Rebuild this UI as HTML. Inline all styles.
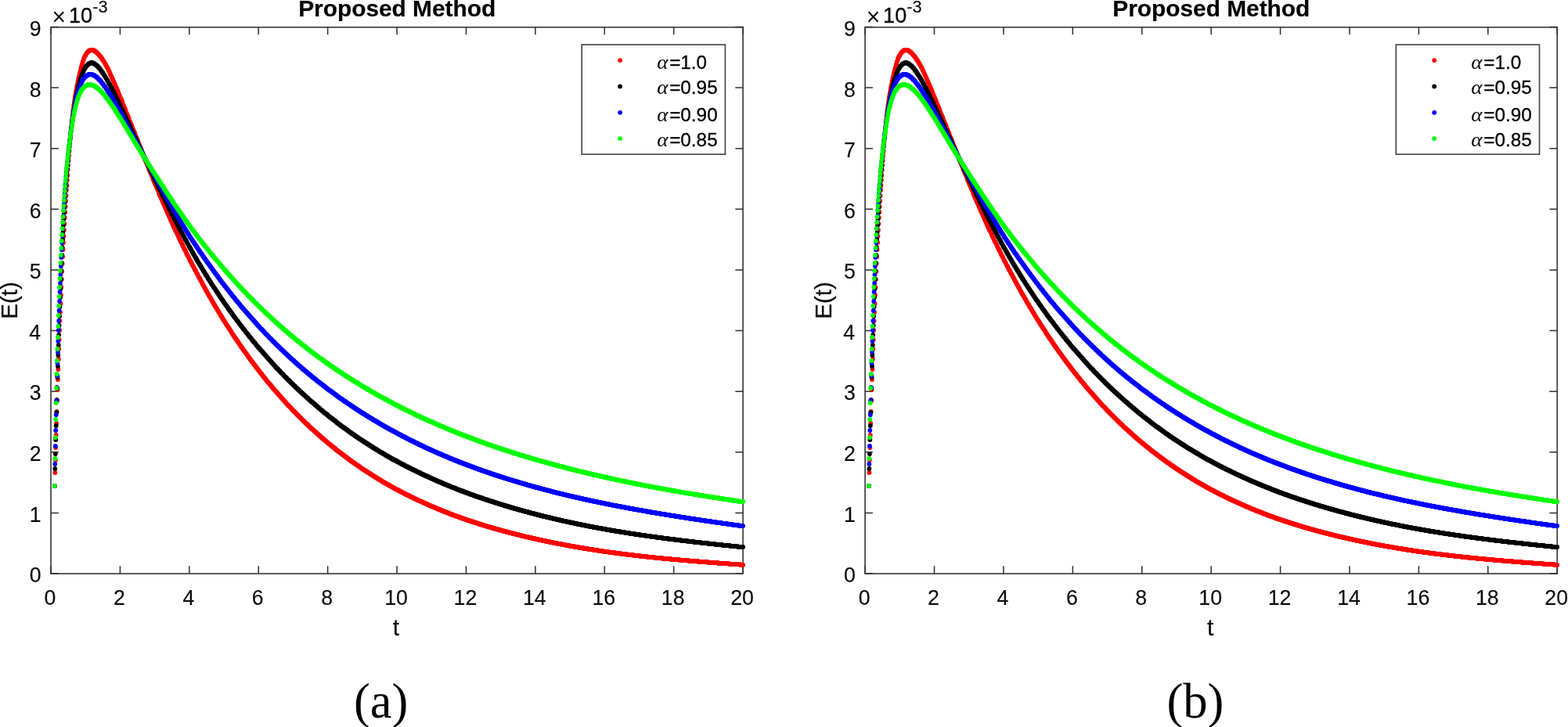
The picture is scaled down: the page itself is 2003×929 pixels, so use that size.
<!DOCTYPE html>
<html><head><meta charset="utf-8"><title>Proposed Method</title>
<style>
html,body{margin:0;padding:0;background:#fff;overflow:hidden;}
svg{display:block;}
text{font-family:"Liberation Sans",Arial,Helvetica,sans-serif;}
.cap{font-family:"Liberation Serif","Times New Roman",serif;}
.al{font-family:"Liberation Serif","DejaVu Serif",serif;font-style:italic;}
</style></head><body>
<svg width="2003" height="929" viewBox="0 0 2003 929">
<rect width="2003" height="929" fill="#fff"/>
<defs>
<g id="curves" fill="none" stroke-width="5.80" stroke-linecap="round" stroke-linejoin="round">
<path d="M69.9 621h0M70.3 604h0M70.8 588h0M71.2 572h0M71.7 556h0M72.1 541h0M72.6 526h0M73 512h0M73.4 498h0M73.9 485h0M74.3 472h0M74.8 459h0M75.2 446h0M75.6 434h0M76.1 422h0M76.5 410h0M77 399h0M77.4 388h0M77.9 377h0M78.3 367h0M78.7 357h0M79.2 347h0M79.6 337h0M80.1 328h0M80.5 319h0M81 310h0M81.4 302h0M81.8 294h0M82.3 286h0M82.7 278h0M83.2 271h0M83.6 264h0M84.1 257h0M84.5 250h0M84.9 243h0M85.4 237h0M85.8 230h0M86.3 224h0M86.7 217h0M87.1 211h0M87.6 205h0M88 199h0M88.5 193h0M88.9 187h0M89.4 182h0M89.8 176h0M90.2 171h0M90.7 166h0M91.1 162h0M91.6 157h0M92 153h0M92.5 149h0M92.9 146h0M93.3 142h0M93.8 139h0M94.2 135h0M94.7 132h0M95.1 129h0M95.6 126h0M96 123h0M96.4 121h0M96.9 118h0M97.3 116h0M97.8 113h0M98.2 111h0M98.6 109h0M99.1 107h0M99.5 104h0M100 102h0M100.4 100h0M100.9 98h0M101.3 96h0M101.7 94h0M102.2 92h0M102.6 91h0M103.1 89h0M103.5 87h0M104 85h0M104.4 84h0M104.8 82h0M105.3 81h0M105.7 79h0M106.2 78h0M106.6 77h0M107 75h0M107.5 74h0M107.9 73h0M108.4 72h0M108.8 71H109.3M109.7 70h0M110.1 69h0M110.6 68H111M111.5 67H111.9M112.4 66H112.8M113.2 65H114.6M115 64H119.4M119.9 65H121.2M121.6 66H122.5M123 67H123.9M124.3 68H124.7M125.2 69H125.6M126.1 70H126.5M127 71H127.4M127.8 72H128.3M128.7 73H129.2M129.6 74h0M130 75H130.5M130.9 76h0M131.4 77H131.8M132.3 78h0M132.7 79H133.1M133.6 80h0M134 81h0M134.5 82H134.9M135.4 83h0M135.8 84h0M136.2 85h0M136.7 86H137.1M137.6 87h0M138 88h0M138.4 89h0M138.9 90h0M139.3 91h0M139.8 92h0M140.2 93h0M140.7 94h0M141.1 95h0M141.5 96h0M142 97h0M142.4 98h0M142.9 99h0M143.3 100h0M143.8 101h0M144.2 102h0M144.6 103h0M145.1 104h0M145.5 105h0M146 106h0M146.4 107h0M146.9 108h0M147.3 109h0M147.7 110h0M148.2 111h0M148.6 112h0M149.1 113h0M149.5 114h0M149.9 115h0M150.4 116h0M150.8 117h0M151.3 119h0M151.7 120h0M152.2 121h0M152.6 122h0M153 123h0M153.5 124h0M153.9 125h0M154.4 126h0M154.8 127h0M155.3 128h0M155.7 129h0M156.1 130h0M156.6 132h0M157 133h0M157.5 134h0M157.9 135h0M158.4 136h0M158.8 137h0M159.2 138h0M159.7 139h0M160.1 140h0M160.6 142h0M161 143h0M161.4 144h0M161.9 145h0M162.3 146h0M162.8 147h0M163.2 148h0M163.7 149h0M164.1 150h0M164.5 151h0M165 153h0M165.4 154h0M165.9 155h0M166.3 156h0M166.8 157h0M167.2 158h0M167.6 159h0M168.1 160h0M168.5 161h0M169 163h0M169.4 164h0M169.8 165h0M170.3 166h0M170.7 167h0M171.2 168h0M171.6 169h0M172.1 170h0M172.5 171h0M172.9 173h0M173.4 174h0M173.8 175h0M174.3 176h0M174.7 177h0M175.2 178h0M175.6 179h0M176 180h0M176.5 181h0M176.9 183h0M177.4 184h0M177.8 185h0M178.3 186h0M178.7 187h0M179.1 188h0M179.6 189h0M180 190h0M180.5 191h0M180.9 193h0M181.3 194h0M181.8 195h0M182.2 196h0M182.7 197h0M183.1 198h0M183.6 199h0M184 200h0M184.4 201h0M184.9 202h0M185.3 204h0M185.8 205h0M186.2 206h0M186.7 207h0M187.1 208h0M187.5 209h0M188 210h0M188.4 211h0M188.9 212h0M189.3 213h0M189.7 214h0M190.2 216h0M190.6 217h0M191.1 218h0M191.5 219h0M192 220h0M192.4 221h0M192.8 222h0M193.3 223h0M193.7 224h0M194.2 225h0M194.6 226h0M195.1 227h0M195.5 229h0M195.9 230h0M196.4 231h0M196.8 232h0M197.3 233h0M197.7 234h0M198.2 235h0M198.6 236h0M199 237h0M199.5 238h0M199.9 239h0M200.4 240h0M200.8 241h0M201.2 242h0M201.7 243h0M202.1 244h0M202.6 245h0M203 247h0M203.5 248h0M203.9 249h0M204.3 250h0M204.8 251h0M205.2 252h0M205.7 253h0M206.1 254h0M206.6 255h0M207 256h0M207.4 257h0M207.9 258h0M208.3 259h0M208.8 260h0M209.2 261h0M209.7 262h0M210.1 263h0M210.5 264h0M211 265h0M211.4 266h0M211.9 267h0M212.3 268h0M212.7 269h0M213.2 270h0M213.6 271h0M214.1 272h0M214.5 273h0M215 274h0M215.4 275h0M215.8 276h0M216.3 277h0M216.7 278h0M217.2 279h0M217.6 280h0M218.1 281h0M218.5 282h0M218.9 283h0M219.4 284h0M219.8 285h0M220.3 286h0M220.7 287h0M221.1 288h0M221.6 289h0M222 290h0M222.5 291h0M222.9 292h0M223.4 293h0M223.8 294h0M224.2 295H224.7M225.1 296h0M225.6 297h0M226 298h0M226.5 299h0M226.9 300h0M227.3 301h0M227.8 302h0M228.2 303h0M228.7 304h0M229.1 305h0M229.6 306h0M230 307h0M230.4 308h0M230.9 309H231.3M231.8 310h0M232.2 311h0M232.6 312h0M233.1 313h0M233.5 314h0M234 315h0M234.4 316h0M234.9 317h0M235.3 318h0M235.7 319H236.2M236.6 320h0M237.1 321h0M237.5 322h0M238 323h0M238.4 324h0M238.8 325h0M239.3 326h0M239.7 327H240.2M240.6 328h0M241.1 329h0M241.5 330h0M241.9 331h0M242.4 332h0M242.8 333h0M243.3 334H243.7M244.1 335h0M244.6 336h0M245 337h0M245.5 338h0M245.9 339h0M246.4 340H246.8M247.2 341h0M247.7 342h0M248.1 343h0M248.6 344h0M249 345H249.5M249.9 346h0M250.3 347h0M250.8 348h0M251.2 349h0M251.7 350H252.1M252.5 351h0M253 352h0M253.4 353h0M253.9 354h0M254.3 355H254.8M255.2 356h0M255.6 357h0M256.1 358h0M256.5 359h0M257 360H257.4M257.9 361h0M258.3 362h0M258.7 363h0M259.2 364H259.6M260.1 365h0M260.5 366h0M261 367h0M261.4 368H261.8M262.3 369h0M262.7 370h0M263.2 371h0M263.6 372H264M264.5 373h0M264.9 374h0M265.4 375h0M265.8 376H266.3M266.7 377h0M267.1 378h0M267.6 379H268M268.5 380h0M268.9 381h0M269.4 382H269.8M270.2 383h0M270.7 384h0M271.1 385h0M271.6 386H272M272.5 387h0M272.9 388h0M273.3 389H273.8M274.2 390h0M274.7 391h0M275.1 392H275.5M276 393h0M276.4 394H276.9M277.3 395h0M277.8 396h0M278.2 397H278.6M279.1 398h0M279.5 399h0M280 400H280.4M280.9 401h0M281.3 402h0M281.7 403H282.2M282.6 404h0M283.1 405H283.5M283.9 406h0M284.4 407h0M284.8 408H285.3M285.7 409h0M286.2 410H286.6M287 411h0M287.5 412H287.9M288.4 413h0M288.8 414h0M289.3 415H289.7M290.1 416h0M290.6 417H291M291.5 418h0M291.9 419H292.4M292.8 420h0M293.2 421H293.7M294.1 422h0M294.6 423H295M295.4 424h0M295.9 425h0M296.3 426H296.8M297.2 427h0M297.7 428H298.1M298.5 429h0M299 430H299.4M299.9 431h0M300.3 432H300.8M301.2 433H301.6M302.1 434h0M302.5 435H303M303.4 436h0M303.9 437H304.3M304.7 438h0M305.2 439H305.6M306.1 440h0M306.5 441H306.9M307.4 442h0M307.8 443H308.3M308.7 444H309.2M309.6 445h0M310 446H310.5M310.9 447h0M311.4 448H311.8M312.3 449H312.7M313.1 450h0M313.6 451H314M314.5 452H314.9M315.3 453h0M315.8 454H316.2M316.7 455h0M317.1 456H317.6M318 457H318.4M318.9 458h0M319.3 459H319.8M320.2 460H320.7M321.1 461h0M321.5 462H322M322.4 463H322.9M323.3 464h0M323.8 465H324.2M324.6 466H325.1M325.5 467H326M326.4 468h0M326.8 469H327.3M327.7 470H328.2M328.6 471h0M329.1 472H329.5M329.9 473H330.4M330.8 474H331.3M331.7 475h0M332.2 476H332.6M333 477H333.5M333.9 478H334.4M334.8 479H335.2M335.7 480h0M336.1 481H336.6M337 482H337.5M337.9 483H338.3M338.8 484H339.2M339.7 485h0M340.1 486H340.6M341 487H341.4M341.9 488H342.3M342.8 489H343.2M343.7 490H344.1M344.5 491H345M345.4 492H345.9M346.3 493h0M346.7 494H347.2M347.6 495H348.1M348.5 496H349M349.4 497H349.8M350.3 498H350.7M351.2 499H351.6M352.1 500H352.5M352.9 501H353.4M353.8 502H354.3M354.7 503H355.2M355.6 504H356M356.5 505H356.9M357.4 506H357.8M358.2 507H358.7M359.1 508H359.6M360 509H360.5M360.9 510H361.3M361.8 511H362.2M362.7 512H363.1M363.6 513H364M364.4 514H364.9M365.3 515H365.8M366.2 516H366.6M367.1 517H367.5M368 518H368.4M368.9 519H369.7M370.2 520H370.6M371.1 521H371.5M372 522H372.4M372.8 523H373.3M373.7 524H374.2M374.6 525H375.1M375.5 526H376.4M376.8 527H377.3M377.7 528H378.1M378.6 529H379M379.5 530H379.9M380.4 531H381.2M381.7 532H382.1M382.6 533H383M383.5 534H384.3M384.8 535H385.2M385.7 536H386.1M386.6 537H387M387.4 538H388.3M388.8 539H389.2M389.6 540H390.1M390.5 541H391.4M391.9 542H392.3M392.7 543H393.6M394.1 544H394.5M395 545H395.4M395.8 546H396.7M397.2 547H397.6M398 548H398.9M399.4 549H399.8M400.3 550H401.1M401.6 551H402M402.5 552H403.4M403.8 553H404.2M404.7 554H405.6M406 555H406.5M406.9 556H407.8M408.2 557H408.7M409.1 558H410M410.4 559H410.9M411.3 560H412.2M412.6 561H413.5M414 562H414.4M414.9 563H415.7M416.2 564H417.1M417.5 565H418M418.4 566H419.3M419.7 567H420.6M421 568H421.9M422.4 569H422.8M423.3 570H424.1M424.6 571H425.5M425.9 572H426.8M427.2 573H428.1M428.6 574H429M429.4 575H430.3M430.8 576H431.7M432.1 577H433M433.4 578H434.3M434.8 579H435.6M436.1 580H437M437.4 581H438.3M438.7 582H439.6M440.1 583H440.9M441.4 584H442.3M442.7 585H443.6M444 586H444.9M445.4 587H446.3M446.7 588H447.6M448 589H448.9M449.4 590H450.2M450.7 591H452M452.4 592H453.3M453.8 593H454.7M455.1 594H456M456.4 595H457.8M458.2 596H459.1M459.5 597H460.4M460.8 598H461.7M462.2 599H463.5M463.9 600H464.8M465.3 601H466.6M467 602H467.9M468.4 603H469.7M470.1 604H471M471.5 605H472.8M473.2 606H474.1M474.6 607H475.9M476.3 608H477.2M477.7 609H479M479.4 610H480.8M481.2 611H482.1M482.5 612H483.8M484.3 613H485.6M486.1 614H486.9M487.4 615H488.7M489.2 616H490.5M490.9 617H492.2M492.7 618H494M494.5 619H495.8M496.2 620H497.6M498 621H499.3M499.8 622H501.1M501.5 623H502.9M503.3 624H504.6M505.1 625H506.4M506.8 626H508.6M509.1 627H510.4M510.8 628H512.2M512.6 629H514.4M514.8 630H516.1M516.6 631H517.9M518.3 632H520.1M520.6 633H522.3M522.8 634H524.1M524.5 635H526.3M526.7 636H528.1M528.5 637H530.3M530.7 638H532.5M532.9 639H534.7M535.1 640H536.9M537.4 641H539.1M539.6 642H541.3M541.8 643H543.5M544 644H545.8M546.2 645H548M548.4 646H550.2M550.6 647H552.4M552.8 648H555M555.5 649H557.3M557.7 650H559.5M559.9 651H562.1M562.6 652H564.3M564.8 653H567M567.4 654H569.6M570.1 655H572.3M572.7 656H574.5M574.9 657H577.2M577.6 658H579.8M580.3 659H582.5M582.9 660H585.6M586 661H588.2M588.7 662H590.9M591.3 663H594M594.4 664H596.6M597.1 665H599.7M600.2 666H602.8M603.3 667H605.9M606.3 668H609M609.4 669H612.1M612.5 670H615.2M615.6 671H618.3M618.7 672H621.8M622.3 673H624.9M625.4 674H628.5M628.9 675H632M632.4 676H635.5M636 677H639.1M639.5 678H642.6M643.1 679H646.6M647 680H650.1M650.6 681H654.1M654.6 682H658.1M658.5 683H662.1M662.5 684H666.1M666.5 685H670M670.5 686H674.5M674.9 687H678.9M679.3 688H683.3M683.7 689H687.7M688.2 690H692.1M692.6 691H697M697.5 692H701.9M702.3 693H706.7M707.2 694H711.6M712 695H716.9M717.4 696H722.2M722.7 697H727.5M728 698H733.3M733.7 699H739M739.5 700H744.8M745.2 701H751M751.4 702H757.2M757.6 703H763.8M764.2 704H770.4M770.9 705H777.5M777.9 706H785M785.5 707H792.5M793 708H800.5M800.9 709H808.9M809.3 710H817.3M817.7 711H826.6M827 712H835.9M836.3 713H846M846.5 714H856.7M857.1 715H867.7M868.2 716H879.2M879.7 717H891.6M892 718H904M904.4 719H917.3M917.7 720H931M931.4 721H945.1M945.6 722H949.1" stroke="#ff0000"/>
<path d="M69.9 621h0M70.3 599h0M70.8 580h0M71.2 562h0M71.7 544h0M72.1 527h0M72.6 511h0M73 496h0M73.4 482h0M73.9 468h0M74.3 454h0M74.8 441h0M75.2 428h0M75.6 416h0M76.1 404h0M76.5 392h0M77 380h0M77.4 369h0M77.9 357h0M78.3 346h0M78.7 336h0M79.2 326h0M79.6 316h0M80.1 306h0M80.5 297h0M81 288h0M81.4 280h0M81.8 272h0M82.3 265h0M82.7 258h0M83.2 251h0M83.6 244h0M84.1 238h0M84.5 232h0M84.9 226h0M85.4 221h0M85.8 216h0M86.3 211h0M86.7 206h0M87.1 201h0M87.6 196h0M88 192h0M88.5 188h0M88.9 183h0M89.4 179h0M89.8 176h0M90.2 172h0M90.7 168h0M91.1 164h0M91.6 161h0M92 158h0M92.5 154h0M92.9 151h0M93.3 148h0M93.8 145h0M94.2 142h0M94.7 139h0M95.1 136h0M95.6 133h0M96 131h0M96.4 128h0M96.9 126h0M97.3 123h0M97.8 121h0M98.2 119h0M98.6 117h0M99.1 115h0M99.5 113h0M100 111h0M100.4 109h0M100.9 108h0M101.3 106h0M101.7 105h0M102.2 103h0M102.6 102h0M103.1 100h0M103.5 99h0M104 98h0M104.4 96h0M104.8 95h0M105.3 94h0M105.7 93h0M106.2 92h0M106.6 91h0M107 90h0M107.5 89h0M107.9 88h0M108.4 87H108.8M109.3 86h0M109.7 85H110.1M110.6 84H111M111.5 83H111.9M112.4 82H113.2M113.7 81H115.5M115.9 80H118.1M118.5 81H120.3M120.8 82H121.6M122.1 83H123M123.4 84H124.3M124.7 85H125.2M125.6 86H126.1M126.5 87H127M127.4 88H127.8M128.3 89h0M128.7 90H129.2M129.6 91H130M130.5 92h0M130.9 93H131.4M131.8 94h0M132.3 95H132.7M133.1 96h0M133.6 97H134M134.5 98h0M134.9 99h0M135.4 100H135.8M136.2 101h0M136.7 102h0M137.1 103H137.6M138 104h0M138.4 105h0M138.9 106h0M139.3 107H139.8M140.2 108h0M140.7 109h0M141.1 110h0M141.5 111h0M142 112H142.4M142.9 113h0M143.3 114h0M143.8 115h0M144.2 116h0M144.6 117h0M145.1 118H145.5M146 119h0M146.4 120h0M146.9 121h0M147.3 122h0M147.7 123h0M148.2 124h0M148.6 125h0M149.1 126h0M149.5 127H149.9M150.4 128h0M150.8 129h0M151.3 130h0M151.7 131h0M152.2 132h0M152.6 133h0M153 134h0M153.5 135h0M153.9 136h0M154.4 137h0M154.8 138h0M155.3 139h0M155.7 140H156.1M156.6 141h0M157 142h0M157.5 143h0M157.9 144h0M158.4 145h0M158.8 146h0M159.2 147h0M159.7 148h0M160.1 149h0M160.6 150h0M161 151h0M161.4 152h0M161.9 153h0M162.3 154h0M162.8 155h0M163.2 156H163.7M164.1 157h0M164.5 158h0M165 159h0M165.4 160h0M165.9 161h0M166.3 162h0M166.8 163h0M167.2 164h0M167.6 165h0M168.1 166h0M168.5 167h0M169 168h0M169.4 169h0M169.8 170h0M170.3 171h0M170.7 172h0M171.2 173h0M171.6 174h0M172.1 175H172.5M172.9 176h0M173.4 177h0M173.8 178h0M174.3 179h0M174.7 180h0M175.2 181h0M175.6 182h0M176 183h0M176.5 184h0M176.9 185h0M177.4 186h0M177.8 187h0M178.3 188h0M178.7 189h0M179.1 190h0M179.6 191h0M180 192h0M180.5 193H180.9M181.3 194h0M181.8 195h0M182.2 196h0M182.7 197h0M183.1 198h0M183.6 199h0M184 200h0M184.4 201h0M184.9 202h0M185.3 203h0M185.8 204h0M186.2 205h0M186.7 206h0M187.1 207H187.5M188 208h0M188.4 209h0M188.9 210h0M189.3 211h0M189.7 212h0M190.2 213h0M190.6 214h0M191.1 215h0M191.5 216h0M192 217h0M192.4 218h0M192.8 219h0M193.3 220H193.7M194.2 221h0M194.6 222h0M195.1 223h0M195.5 224h0M195.9 225h0M196.4 226h0M196.8 227h0M197.3 228h0M197.7 229h0M198.2 230h0M198.6 231H199M199.5 232h0M199.9 233h0M200.4 234h0M200.8 235h0M201.2 236h0M201.7 237h0M202.1 238h0M202.6 239h0M203 240h0M203.5 241h0M203.9 242H204.3M204.8 243h0M205.2 244h0M205.7 245h0M206.1 246h0M206.6 247h0M207 248h0M207.4 249h0M207.9 250h0M208.3 251H208.8M209.2 252h0M209.7 253h0M210.1 254h0M210.5 255h0M211 256h0M211.4 257h0M211.9 258h0M212.3 259h0M212.7 260H213.2M213.6 261h0M214.1 262h0M214.5 263h0M215 264h0M215.4 265h0M215.8 266h0M216.3 267h0M216.7 268H217.2M217.6 269h0M218.1 270h0M218.5 271h0M218.9 272h0M219.4 273h0M219.8 274h0M220.3 275H220.7M221.1 276h0M221.6 277h0M222 278h0M222.5 279h0M222.9 280h0M223.4 281H223.8M224.2 282h0M224.7 283h0M225.1 284h0M225.6 285h0M226 286h0M226.5 287H226.9M227.3 288h0M227.8 289h0M228.2 290h0M228.7 291h0M229.1 292H229.6M230 293h0M230.4 294h0M230.9 295h0M231.3 296h0M231.8 297H232.2M232.6 298h0M233.1 299h0M233.5 300h0M234 301h0M234.4 302H234.9M235.3 303h0M235.7 304h0M236.2 305h0M236.6 306H237.1M237.5 307h0M238 308h0M238.4 309h0M238.8 310h0M239.3 311H239.7M240.2 312h0M240.6 313h0M241.1 314h0M241.5 315H241.9M242.4 316h0M242.8 317h0M243.3 318H243.7M244.1 319h0M244.6 320h0M245 321h0M245.5 322H245.9M246.4 323h0M246.8 324h0M247.2 325H247.7M248.1 326h0M248.6 327h0M249 328h0M249.5 329H249.9M250.3 330h0M250.8 331h0M251.2 332H251.7M252.1 333h0M252.5 334h0M253 335H253.4M253.9 336h0M254.3 337h0M254.8 338H255.2M255.6 339h0M256.1 340H256.5M257 341h0M257.4 342h0M257.9 343H258.3M258.7 344h0M259.2 345h0M259.6 346H260.1M260.5 347h0M261 348H261.4M261.8 349h0M262.3 350h0M262.7 351H263.2M263.6 352h0M264 353H264.5M264.9 354h0M265.4 355h0M265.8 356H266.3M266.7 357h0M267.1 358H267.6M268 359h0M268.5 360H268.9M269.4 361h0M269.8 362h0M270.2 363H270.7M271.1 364h0M271.6 365H272M272.5 366h0M272.9 367H273.3M273.8 368h0M274.2 369H274.7M275.1 370h0M275.5 371H276M276.4 372h0M276.9 373H277.3M277.8 374h0M278.2 375H278.6M279.1 376h0M279.5 377H280M280.4 378h0M280.9 379H281.3M281.7 380h0M282.2 381H282.6M283.1 382h0M283.5 383H283.9M284.4 384H284.8M285.3 385h0M285.7 386H286.2M286.6 387h0M287 388H287.5M287.9 389h0M288.4 390H288.8M289.3 391H289.7M290.1 392h0M290.6 393H291M291.5 394h0M291.9 395H292.4M292.8 396H293.2M293.7 397h0M294.1 398H294.6M295 399H295.4M295.9 400h0M296.3 401H296.8M297.2 402h0M297.7 403H298.1M298.5 404H299M299.4 405h0M299.9 406H300.3M300.8 407H301.2M301.6 408h0M302.1 409H302.5M303 410H303.4M303.9 411H304.3M304.7 412h0M305.2 413H305.6M306.1 414H306.5M306.9 415h0M307.4 416H307.8M308.3 417H308.7M309.2 418H309.6M310 419h0M310.5 420H310.9M311.4 421H311.8M312.3 422H312.7M313.1 423h0M313.6 424H314M314.5 425H314.9M315.3 426H315.8M316.2 427H316.7M317.1 428h0M317.6 429H318M318.4 430H318.9M319.3 431H319.8M320.2 432H320.7M321.1 433h0M321.5 434H322M322.4 435H322.9M323.3 436H323.8M324.2 437H324.6M325.1 438H325.5M326 439H326.4M326.8 440h0M327.3 441H327.7M328.2 442H328.6M329.1 443H329.5M329.9 444H330.4M330.8 445H331.3M331.7 446H332.2M332.6 447H333M333.5 448H333.9M334.4 449H334.8M335.2 450H335.7M336.1 451H336.6M337 452H337.5M337.9 453H338.3M338.8 454H339.2M339.7 455H340.1M340.6 456H341M341.4 457H341.9M342.3 458H342.8M343.2 459H343.7M344.1 460H344.5M345 461H345.4M345.9 462H346.3M346.7 463H347.2M347.6 464H348.1M348.5 465H349M349.4 466H349.8M350.3 467H350.7M351.2 468H351.6M352.1 469H352.5M352.9 470H353.4M353.8 471H354.7M355.2 472H355.6M356 473H356.5M356.9 474H357.4M357.8 475H358.2M358.7 476H359.1M359.6 477H360.5M360.9 478H361.3M361.8 479H362.2M362.7 480H363.1M363.6 481H364M364.4 482H365.3M365.8 483H366.2M366.6 484H367.1M367.5 485H368M368.4 486H369.3M369.7 487H370.2M370.6 488H371.1M371.5 489H372M372.4 490H373.3M373.7 491H374.2M374.6 492H375.1M375.5 493H376.4M376.8 494H377.3M377.7 495H378.1M378.6 496H379.5M379.9 497H380.4M380.8 498H381.7M382.1 499H382.6M383 500H383.5M383.9 501H384.8M385.2 502H385.7M386.1 503H387M387.4 504H387.9M388.3 505H389.2M389.6 506H390.1M390.5 507H391.4M391.9 508H392.3M392.7 509H393.6M394.1 510H394.5M395 511H395.8M396.3 512H396.7M397.2 513H398M398.5 514H399.4M399.8 515H400.3M400.7 516H401.6M402 517H402.5M402.9 518H403.8M404.2 519H405.1M405.6 520H406M406.5 521H407.3M407.8 522H408.7M409.1 523H409.5M410 524H410.9M411.3 525H412.2M412.6 526H413.1M413.5 527H414.4M414.9 528H415.7M416.2 529H417.1M417.5 530H418.4M418.8 531H419.3M419.7 532H420.6M421 533H421.9M422.4 534H423.3M423.7 535H424.6M425 536H425.9M426.4 537H427.2M427.7 538H428.6M429 539H429.4M429.9 540H430.8M431.2 541H432.1M432.5 542H433.4M433.9 543H434.8M435.2 544H436.1M436.5 545H437.4M437.9 546H439.2M439.6 547H440.5M440.9 548H441.8M442.3 549H443.2M443.6 550H444.5M444.9 551H445.8M446.3 552H447.1M447.6 553H448.5M448.9 554H450.2M450.7 555H451.6M452 556H452.9M453.3 557H454.2M454.7 558H456M456.4 559H457.3M457.8 560H458.6M459.1 561H460.4M460.8 562H461.7M462.2 563H463.5M463.9 564H464.8M465.3 565H466.6M467 566H467.9M468.4 567H469.7M470.1 568H471M471.5 569H472.8M473.2 570H474.1M474.6 571H475.9M476.3 572H477.2M477.7 573H479M479.4 574H480.8M481.2 575H482.5M483 576H483.8M484.3 577H485.6M486.1 578H487.4M487.8 579H489.2M489.6 580H490.9M491.4 581H492.2M492.7 582H494M494.5 583H495.8M496.2 584H497.6M498 585H499.3M499.8 586H501.1M501.5 587H502.9M503.3 588H505.1M505.5 589H506.8M507.3 590H508.6M509.1 591H510.4M510.8 592H512.2M512.6 593H514.4M514.8 594H516.1M516.6 595H517.9M518.3 596H520.1M520.6 597H521.9M522.3 598H524.1M524.5 599H525.9M526.3 600H528.1M528.5 601H530.3M530.7 602H532.1M532.5 603H534.3M534.7 604H536.5M536.9 605H538.2M538.7 606H540.5M540.9 607H542.7M543.1 608H544.9M545.3 609H547.1M547.5 610H549.3M549.7 611H551.5M552 612H553.7M554.2 613H555.9M556.4 614H558.1M558.6 615H560.4M560.8 616H563M563.5 617H565.2M565.7 618H567.4M567.9 619H570.1M570.5 620H572.3M572.7 621H574.9M575.4 622H577.2M577.6 623H579.8M580.3 624H582.5M582.9 625H584.7M585.1 626H587.3M587.8 627H590M590.4 628H592.6M593.1 629H595.3M595.7 630H597.9M598.4 631H600.6M601 632H603.7M604.1 633H606.3M606.8 634H609M609.4 635H612.1M612.5 636H615.2M615.6 637H617.8M618.3 638H620.9M621.4 639H624M624.5 640H627.1M627.6 641H630.2M630.7 642H633.3M633.8 643H636.4M636.9 644H639.5M640 645H643.1M643.5 646H646.2M646.6 647H649.7M650.1 648H652.8M653.2 649H656.3M656.8 650H659.9M660.3 651H663.4M663.8 652H666.9M667.4 653H670.5M670.9 654H674.5M674.9 655H678M678.4 656H682M682.4 657H685.5M686 658H689.5M689.9 659H693.5M693.9 660H697.5M697.9 661H701.9M702.3 662H705.9M706.3 663H710.3M710.7 664H714.7M715.1 665H718.7M719.1 666H723.5M724 667H728M728.4 668H732.8M733.3 669H737.3M737.7 670H742.6M743 671H747.4M747.9 672H752.3M752.7 673H757.6M758 674H762.9M763.3 675H768.7M769.1 676H774M774.4 677H779.7M780.2 678H785.5M785.9 679H791.7M792.1 680H797.8M798.3 681H804M804.5 682H810.7M811.1 683H817.3M817.7 684H824.4M824.8 685H831M831.5 686H838.5M839 687H846M846.5 688H853.6M854 689H861.5M862 690H869.5M869.9 691H877.9M878.3 692H886.3M886.7 693H895.1M895.6 694H904.4M904.9 695H913.3M913.7 696H922.6M923 697H932.3M932.7 698H942M942.5 699H949.1" stroke="#000000"/>
<path d="M69.9 621h0M70.3 593h0M70.8 570h0M71.2 550h0M71.7 530h0M72.1 512h0M72.6 495h0M73 480h0M73.4 464h0M73.9 450h0M74.3 436h0M74.8 422h0M75.2 410h0M75.6 397h0M76.1 385h0M76.5 373h0M77 362h0M77.4 351h0M77.9 340h0M78.3 329h0M78.7 319h0M79.2 310h0M79.6 301h0M80.1 292h0M80.5 284h0M81 276h0M81.4 268h0M81.8 261h0M82.3 255h0M82.7 248h0M83.2 242h0M83.6 236h0M84.1 231h0M84.5 225h0M84.9 220h0M85.4 215h0M85.8 210h0M86.3 206h0M86.7 201h0M87.1 197h0M87.6 193h0M88 189h0M88.5 185h0M88.9 181h0M89.4 178h0M89.8 174h0M90.2 170h0M90.7 167h0M91.1 164h0M91.6 160h0M92 157h0M92.5 154h0M92.9 151h0M93.3 148h0M93.8 145h0M94.2 142h0M94.7 140h0M95.1 137h0M95.6 135h0M96 132h0M96.4 130h0M96.9 128h0M97.3 126h0M97.8 124h0M98.2 122h0M98.6 120h0M99.1 119h0M99.5 117h0M100 116h0M100.4 114h0M100.9 113h0M101.3 112h0M101.7 111h0M102.2 110h0M102.6 109h0M103.1 108h0M103.5 107h0M104 106h0M104.4 105h0M104.8 104h0M105.3 103h0M105.7 102H106.2M106.6 101h0M107 100H107.5M107.9 99H108.4M108.8 98H109.7M110.1 97H110.6M111 96H112.8M113.2 95H117.7M118.1 96H120.3M120.8 97H121.6M122.1 98H123M123.4 99H124.3M124.7 100H125.2M125.6 101H126.1M126.5 102H127.4M127.8 103H128.3M128.7 104H129.2M129.6 105h0M130 106H130.5M130.9 107H131.4M131.8 108H132.3M132.7 109h0M133.1 110H133.6M134 111H134.5M134.9 112h0M135.4 113H135.8M136.2 114h0M136.7 115H137.1M137.6 116h0M138 117H138.4M138.9 118h0M139.3 119H139.8M140.2 120h0M140.7 121H141.1M141.5 122h0M142 123h0M142.4 124H142.9M143.3 125h0M143.8 126H144.2M144.6 127h0M145.1 128h0M145.5 129h0M146 130H146.4M146.9 131h0M147.3 132h0M147.7 133H148.2M148.6 134h0M149.1 135h0M149.5 136H149.9M150.4 137h0M150.8 138h0M151.3 139h0M151.7 140H152.2M152.6 141h0M153 142h0M153.5 143h0M153.9 144h0M154.4 145H154.8M155.3 146h0M155.7 147h0M156.1 148h0M156.6 149H157M157.5 150h0M157.9 151h0M158.4 152h0M158.8 153h0M159.2 154H159.7M160.1 155h0M160.6 156h0M161 157h0M161.4 158h0M161.9 159H162.3M162.8 160h0M163.2 161h0M163.7 162h0M164.1 163h0M164.5 164H165M165.4 165h0M165.9 166h0M166.3 167h0M166.8 168h0M167.2 169H167.6M168.1 170h0M168.5 171h0M169 172h0M169.4 173h0M169.8 174H170.3M170.7 175h0M171.2 176h0M171.6 177h0M172.1 178h0M172.5 179H172.9M173.4 180h0M173.8 181h0M174.3 182h0M174.7 183h0M175.2 184H175.6M176 185h0M176.5 186h0M176.9 187h0M177.4 188h0M177.8 189H178.3M178.7 190h0M179.1 191h0M179.6 192h0M180 193h0M180.5 194H180.9M181.3 195h0M181.8 196h0M182.2 197h0M182.7 198h0M183.1 199H183.6M184 200h0M184.4 201h0M184.9 202h0M185.3 203H185.8M186.2 204h0M186.7 205h0M187.1 206h0M187.5 207h0M188 208H188.4M188.9 209h0M189.3 210h0M189.7 211h0M190.2 212H190.6M191.1 213h0M191.5 214h0M192 215h0M192.4 216H192.8M193.3 217h0M193.7 218h0M194.2 219h0M194.6 220H195.1M195.5 221h0M195.9 222h0M196.4 223h0M196.8 224H197.3M197.7 225h0M198.2 226h0M198.6 227h0M199 228H199.5M199.9 229h0M200.4 230h0M200.8 231h0M201.2 232H201.7M202.1 233h0M202.6 234h0M203 235h0M203.5 236H203.9M204.3 237h0M204.8 238h0M205.2 239h0M205.7 240H206.1M206.6 241h0M207 242h0M207.4 243h0M207.9 244H208.3M208.8 245h0M209.2 246h0M209.7 247h0M210.1 248H210.5M211 249h0M211.4 250h0M211.9 251H212.3M212.7 252h0M213.2 253h0M213.6 254h0M214.1 255H214.5M215 256h0M215.4 257h0M215.8 258H216.3M216.7 259h0M217.2 260h0M217.6 261h0M218.1 262H218.5M218.9 263h0M219.4 264h0M219.8 265H220.3M220.7 266h0M221.1 267h0M221.6 268H222M222.5 269h0M222.9 270h0M223.4 271H223.8M224.2 272h0M224.7 273h0M225.1 274H225.6M226 275h0M226.5 276h0M226.9 277H227.3M227.8 278h0M228.2 279h0M228.7 280H229.1M229.6 281h0M230 282h0M230.4 283H230.9M231.3 284h0M231.8 285h0M232.2 286H232.6M233.1 287h0M233.5 288H234M234.4 289h0M234.9 290h0M235.3 291H235.7M236.2 292h0M236.6 293H237.1M237.5 294h0M238 295h0M238.4 296H238.8M239.3 297h0M239.7 298H240.2M240.6 299h0M241.1 300H241.5M241.9 301h0M242.4 302h0M242.8 303H243.3M243.7 304h0M244.1 305H244.6M245 306h0M245.5 307H245.9M246.4 308h0M246.8 309H247.2M247.7 310h0M248.1 311H248.6M249 312h0M249.5 313H249.9M250.3 314h0M250.8 315H251.2M251.7 316h0M252.1 317H252.5M253 318h0M253.4 319H253.9M254.3 320h0M254.8 321H255.2M255.6 322h0M256.1 323H256.5M257 324H257.4M257.9 325h0M258.3 326H258.7M259.2 327h0M259.6 328H260.1M260.5 329h0M261 330H261.4M261.8 331H262.3M262.7 332h0M263.2 333H263.6M264 334h0M264.5 335H264.9M265.4 336H265.8M266.3 337h0M266.7 338H267.1M267.6 339H268M268.5 340h0M268.9 341H269.4M269.8 342h0M270.2 343H270.7M271.1 344H271.6M272 345h0M272.5 346H272.9M273.3 347H273.8M274.2 348h0M274.7 349H275.1M275.5 350H276M276.4 351h0M276.9 352H277.3M277.8 353H278.2M278.6 354h0M279.1 355H279.5M280 356H280.4M280.9 357h0M281.3 358H281.7M282.2 359H282.6M283.1 360h0M283.5 361H283.9M284.4 362H284.8M285.3 363H285.7M286.2 364h0M286.6 365H287M287.5 366H287.9M288.4 367H288.8M289.3 368h0M289.7 369H290.1M290.6 370H291M291.5 371H291.9M292.4 372h0M292.8 373H293.2M293.7 374H294.1M294.6 375H295M295.4 376H295.9M296.3 377h0M296.8 378H297.2M297.7 379H298.1M298.5 380H299M299.4 381H299.9M300.3 382h0M300.8 383H301.2M301.6 384H302.1M302.5 385H303M303.4 386H303.9M304.3 387H304.7M305.2 388H305.6M306.1 389H306.5M306.9 390h0M307.4 391H307.8M308.3 392H308.7M309.2 393H309.6M310 394H310.5M310.9 395H311.4M311.8 396H312.3M312.7 397H313.1M313.6 398H314M314.5 399H314.9M315.3 400H315.8M316.2 401H316.7M317.1 402H317.6M318 403H318.4M318.9 404H319.3M319.8 405H320.2M320.7 406H321.1M321.5 407H322M322.4 408H322.9M323.3 409H323.8M324.2 410H324.6M325.1 411H325.5M326 412H326.4M326.8 413H327.3M327.7 414H328.2M328.6 415H329.1M329.5 416H329.9M330.4 417H330.8M331.3 418H331.7M332.2 419H332.6M333 420H333.5M333.9 421H334.8M335.2 422H335.7M336.1 423H336.6M337 424H337.5M337.9 425H338.3M338.8 426H339.2M339.7 427H340.1M340.6 428H341.4M341.9 429H342.3M342.8 430H343.2M343.7 431H344.1M344.5 432H345M345.4 433H346.3M346.7 434H347.2M347.6 435H348.1M348.5 436H349M349.4 437H350.3M350.7 438H351.2M351.6 439H352.1M352.5 440H352.9M353.4 441H354.3M354.7 442H355.2M355.6 443H356M356.5 444H357.4M357.8 445H358.2M358.7 446H359.1M359.6 447H360.5M360.9 448H361.3M361.8 449H362.2M362.7 450H363.6M364 451H364.4M364.9 452H365.8M366.2 453H366.6M367.1 454H367.5M368 455H368.9M369.3 456H369.7M370.2 457H371.1M371.5 458H372M372.4 459H373.3M373.7 460H374.2M374.6 461H375.5M375.9 462H376.4M376.8 463H377.7M378.1 464H378.6M379 465H379.9M380.4 466H380.8M381.2 467H382.1M382.6 468H383.5M383.9 469H384.3M384.8 470H385.7M386.1 471H386.6M387 472H387.9M388.3 473H389.2M389.6 474H390.1M390.5 475H391.4M391.9 476H392.7M393.2 477H393.6M394.1 478H395M395.4 479H396.3M396.7 480H397.6M398 481H398.5M398.9 482H399.8M400.3 483H401.1M401.6 484H402.5M402.9 485H403.8M404.2 486H404.7M405.1 487H406M406.5 488H407.3M407.8 489H408.7M409.1 490H410M410.4 491H411.3M411.8 492H412.6M413.1 493H414M414.4 494H415.3M415.7 495H416.2M416.6 496H417.5M418 497H418.8M419.3 498H420.2M420.6 499H421.9M422.4 500H423.3M423.7 501H424.6M425 502H425.9M426.4 503H427.2M427.7 504H428.6M429 505H429.9M430.3 506H431.2M431.7 507H432.5M433 508H433.9M434.3 509H435.6M436.1 510H437M437.4 511H438.3M438.7 512H439.6M440.1 513H441.4M441.8 514H442.7M443.2 515H444M444.5 516H445.8M446.3 517H447.1M447.6 518H448.5M448.9 519H450.2M450.7 520H451.6M452 521H452.9M453.3 522H454.7M455.1 523H456M456.4 524H457.8M458.2 525H459.1M459.5 526H460.8M461.3 527H462.2M462.6 528H463.9M464.4 529H465.7M466.2 530H467M467.5 531H468.8M469.3 532H470.1M470.6 533H471.9M472.3 534H473.7M474.1 535H475.4M475.9 536H476.8M477.2 537H478.5M479 538H480.3M480.8 539H482.1M482.5 540H483.8M484.3 541H485.2M485.6 542H486.9M487.4 543H488.7M489.2 544H490.5M490.9 545H492.2M492.7 546H494M494.5 547H495.8M496.2 548H497.6M498 549H499.3M499.8 550H501.5M502 551H503.3M503.7 552H505.1M505.5 553H506.8M507.3 554H508.6M509.1 555H510.8M511.3 556H512.6M513 557H514.4M514.8 558H516.6M517 559H518.3M518.8 560H520.1M520.6 561H522.3M522.8 562H524.1M524.5 563H526.3M526.7 564H528.5M529 565H530.3M530.7 566H532.5M532.9 567H534.3M534.7 568H536.5M536.9 569H538.7M539.1 570H540.9M541.3 571H542.7M543.1 572H544.9M545.3 573H547.1M547.5 574H549.3M549.7 575H551.5M552 576H553.7M554.2 577H555.9M556.4 578H558.1M558.6 579H560.4M560.8 580H563M563.5 581H565.2M565.7 582H567.4M567.9 583H570.1M570.5 584H572.3M572.7 585H574.5M574.9 586H577.2M577.6 587H579.4M579.8 588H582M582.5 589H584.7M585.1 590H586.9M587.3 591H589.5M590 592H592.2M592.6 593H594.9M595.3 594H597.5M597.9 595H600.2M600.6 596H602.8M603.3 597H605.5M605.9 598H608.1M608.6 599H610.8M611.2 600H613.9M614.3 601H616.5M617 602H619.6M620.1 603H622.3M622.7 604H625.4M625.8 605H628M628.5 606H631.1M631.6 607H634.2M634.7 608H637.3M637.7 609H640.4M640.8 610H643.5M643.9 611H646.6M647 612H649.7M650.1 613H653.2M653.7 614H656.3M656.8 615H659.9M660.3 616H663M663.4 617H666.5M666.9 618H670M670.5 619H673.1M673.6 620H676.7M677.1 621H680.2M680.6 622H683.7M684.2 623H687.7M688.2 624H691.3M691.7 625H694.8M695.2 626H698.8M699.2 627H702.8M703.2 628H706.3M706.7 629H710.3M710.7 630H714.3M714.7 631H718.7M719.1 632H722.7M723.1 633H726.6M727.1 634H731.1M731.5 635H735.5M735.9 636H739.9M740.4 637H744.3M744.8 638H748.8M749.2 639H753.2M753.6 640H758M758.5 641H762.9M763.3 642H767.8M768.2 643H772.6M773.1 644H777.5M777.9 645H782.4M782.8 646H787.7M788.1 647H793M793.4 648H798.3M798.7 649H803.6M804 650H808.9M809.3 651H814.6M815.1 652H820.4M820.8 653H825.7M826.1 654H831.5M831.9 655H837.6M838.1 656H843.4M843.8 657H849.6M850 658H855.8M856.2 659H862M862.4 660H868.2M868.6 661H874.8M875.2 662H881M881.4 663H887.6M888.1 664H894.3M894.7 665H900.9M901.3 666H908M908.4 667H914.6M915 668H921.7M922.1 669H928.7M929.2 670H935.8M936.3 671H943.3M943.8 672H949.1" stroke="#0000ff"/>
<path d="M69.9 621h0M70.3 586h0M70.8 559h0M71.2 536h0M71.7 515h0M72.1 496h0M72.6 478h0M73 461h0M73.4 446h0M73.9 431h0M74.3 417h0M74.8 403h0M75.2 391h0M75.6 379h0M76.1 367h0M76.5 356h0M77 346h0M77.4 336h0M77.9 326h0M78.3 317h0M78.7 308h0M79.2 300h0M79.6 292h0M80.1 284h0M80.5 277h0M81 269h0M81.4 263h0M81.8 256h0M82.3 250h0M82.7 244h0M83.2 238h0M83.6 232h0M84.1 227h0M84.5 222h0M84.9 217h0M85.4 213h0M85.8 209h0M86.3 204h0M86.7 200h0M87.1 197h0M87.6 193h0M88 189h0M88.5 186h0M88.9 182h0M89.4 179h0M89.8 175h0M90.2 172h0M90.7 169h0M91.1 166h0M91.6 163h0M92 160h0M92.5 157h0M92.9 154h0M93.3 151h0M93.8 149h0M94.2 147h0M94.7 144h0M95.1 142h0M95.6 140h0M96 138h0M96.4 136h0M96.9 135h0M97.3 133h0M97.8 131h0M98.2 130h0M98.6 128h0M99.1 127h0M99.5 126h0M100 124h0M100.4 123h0M100.9 122h0M101.3 121h0M101.7 120h0M102.2 119h0M102.6 118h0M103.1 117h0M103.5 116H104M104.4 115h0M104.8 114H105.3M105.7 113H106.2M106.6 112H107M107.5 111H107.9M108.4 110H109.7M110.1 109H111.9M112.4 108H116.3M116.8 109H119.4M119.9 110H121.2M121.6 111H122.5M123 112H124.3M124.7 113H125.2M125.6 114H126.5M127 115H127.4M127.8 116H128.7M129.2 117H129.6M130 118H130.5M130.9 119H131.4M131.8 120H132.3M132.7 121H133.1M133.6 122H134M134.5 123H134.9M135.4 124h0M135.8 125H136.2M136.7 126H137.1M137.6 127H138M138.4 128h0M138.9 129H139.3M139.8 130h0M140.2 131H140.7M141.1 132H141.5M142 133h0M142.4 134H142.9M143.3 135h0M143.8 136H144.2M144.6 137h0M145.1 138H145.5M146 139h0M146.4 140H146.9M147.3 141h0M147.7 142H148.2M148.6 143h0M149.1 144H149.5M149.9 145h0M150.4 146h0M150.8 147H151.3M151.7 148h0M152.2 149H152.6M153 150h0M153.5 151H153.9M154.4 152h0M154.8 153h0M155.3 154H155.7M156.1 155h0M156.6 156H157M157.5 157h0M157.9 158h0M158.4 159H158.8M159.2 160h0M159.7 161h0M160.1 162H160.6M161 163h0M161.4 164H161.9M162.3 165h0M162.8 166h0M163.2 167H163.7M164.1 168h0M164.5 169h0M165 170H165.4M165.9 171h0M166.3 172h0M166.8 173H167.2M167.6 174h0M168.1 175H168.5M169 176h0M169.4 177h0M169.8 178H170.3M170.7 179h0M171.2 180h0M171.6 181H172.1M172.5 182h0M172.9 183H173.4M173.8 184h0M174.3 185h0M174.7 186H175.2M175.6 187h0M176 188h0M176.5 189H176.9M177.4 190h0M177.8 191H178.3M178.7 192h0M179.1 193h0M179.6 194H180M180.5 195h0M180.9 196H181.3M181.8 197h0M182.2 198h0M182.7 199H183.1M183.6 200h0M184 201H184.4M184.9 202h0M185.3 203h0M185.8 204H186.2M186.7 205h0M187.1 206H187.5M188 207h0M188.4 208h0M188.9 209H189.3M189.7 210h0M190.2 211H190.6M191.1 212h0M191.5 213H192M192.4 214h0M192.8 215H193.3M193.7 216h0M194.2 217h0M194.6 218H195.1M195.5 219h0M195.9 220H196.4M196.8 221h0M197.3 222H197.7M198.2 223h0M198.6 224H199M199.5 225h0M199.9 226h0M200.4 227H200.8M201.2 228h0M201.7 229H202.1M202.6 230h0M203 231H203.5M203.9 232h0M204.3 233H204.8M205.2 234h0M205.7 235H206.1M206.6 236h0M207 237H207.4M207.9 238h0M208.3 239H208.8M209.2 240h0M209.7 241h0M210.1 242H210.5M211 243h0M211.4 244H211.9M212.3 245h0M212.7 246H213.2M213.6 247h0M214.1 248H214.5M215 249h0M215.4 250H215.8M216.3 251h0M216.7 252H217.2M217.6 253h0M218.1 254H218.5M218.9 255h0M219.4 256H219.8M220.3 257h0M220.7 258H221.1M221.6 259h0M222 260H222.5M222.9 261h0M223.4 262H223.8M224.2 263H224.7M225.1 264h0M225.6 265H226M226.5 266h0M226.9 267H227.3M227.8 268h0M228.2 269H228.7M229.1 270h0M229.6 271H230M230.4 272H230.9M231.3 273h0M231.8 274H232.2M232.6 275h0M233.1 276H233.5M234 277h0M234.4 278H234.9M235.3 279H235.7M236.2 280h0M236.6 281H237.1M237.5 282h0M238 283H238.4M238.8 284H239.3M239.7 285h0M240.2 286H240.6M241.1 287H241.5M241.9 288h0M242.4 289H242.8M243.3 290h0M243.7 291H244.1M244.6 292H245M245.5 293h0M245.9 294H246.4M246.8 295H247.2M247.7 296H248.1M248.6 297h0M249 298H249.5M249.9 299H250.3M250.8 300h0M251.2 301H251.7M252.1 302H252.5M253 303h0M253.4 304H253.9M254.3 305H254.8M255.2 306H255.6M256.1 307h0M256.5 308H257M257.4 309H257.9M258.3 310H258.7M259.2 311h0M259.6 312H260.1M260.5 313H261M261.4 314H261.8M262.3 315H262.7M263.2 316h0M263.6 317H264M264.5 318H264.9M265.4 319H265.8M266.3 320H266.7M267.1 321h0M267.6 322H268M268.5 323H268.9M269.4 324H269.8M270.2 325H270.7M271.1 326H271.6M272 327H272.5M272.9 328h0M273.3 329H273.8M274.2 330H274.7M275.1 331H275.5M276 332H276.4M276.9 333H277.3M277.8 334H278.2M278.6 335H279.1M279.5 336H280M280.4 337h0M280.9 338H281.3M281.7 339H282.2M282.6 340H283.1M283.5 341H283.9M284.4 342H284.8M285.3 343H285.7M286.2 344H286.6M287 345H287.5M287.9 346H288.4M288.8 347H289.3M289.7 348H290.1M290.6 349H291M291.5 350H291.9M292.4 351H292.8M293.2 352H293.7M294.1 353H294.6M295 354H295.4M295.9 355H296.3M296.8 356H297.2M297.7 357H298.1M298.5 358H299M299.4 359H299.9M300.3 360H300.8M301.2 361H301.6M302.1 362H302.5M303 363H303.4M303.9 364H304.3M304.7 365H305.6M306.1 366H306.5M306.9 367H307.4M307.8 368H308.3M308.7 369H309.2M309.6 370H310M310.5 371H310.9M311.4 372H311.8M312.3 373H313.1M313.6 374H314M314.5 375H314.9M315.3 376H315.8M316.2 377H316.7M317.1 378H317.6M318 379H318.9M319.3 380H319.8M320.2 381H320.7M321.1 382H321.5M322 383H322.9M323.3 384H323.8M324.2 385H324.6M325.1 386H325.5M326 387H326.8M327.3 388H327.7M328.2 389H328.6M329.1 390H329.5M329.9 391H330.8M331.3 392H331.7M332.2 393H332.6M333 394H333.9M334.4 395H334.8M335.2 396H335.7M336.1 397H337M337.5 398H337.9M338.3 399H338.8M339.2 400H340.1M340.6 401H341M341.4 402H342.3M342.8 403H343.2M343.7 404H344.5M345 405H345.4M345.9 406H346.3M346.7 407H347.6M348.1 408H348.5M349 409H349.8M350.3 410H350.7M351.2 411H352.1M352.5 412H352.9M353.4 413H354.3M354.7 414H355.2M355.6 415H356.5M356.9 416H357.4M357.8 417H358.7M359.1 418H360M360.5 419H360.9M361.3 420H362.2M362.7 421H363.1M363.6 422H364.4M364.9 423H365.8M366.2 424H366.6M367.1 425H368M368.4 426H368.9M369.3 427H370.2M370.6 428H371.5M372 429H372.8M373.3 430H373.7M374.2 431H375.1M375.5 432H376.4M376.8 433H377.3M377.7 434H378.6M379 435H379.9M380.4 436H381.2M381.7 437H382.6M383 438H383.5M383.9 439H384.8M385.2 440H386.1M386.6 441H387.4M387.9 442H388.8M389.2 443H390.1M390.5 444H391M391.4 445H392.3M392.7 446H393.6M394.1 447H395M395.4 448H396.3M396.7 449H397.6M398 450H398.9M399.4 451H400.3M400.7 452H401.6M402 453H402.9M403.4 454H404.2M404.7 455H405.6M406 456H406.9M407.3 457H408.2M408.7 458H410M410.4 459H411.3M411.8 460H412.6M413.1 461H414M414.4 462H415.3M415.7 463H416.6M417.1 464H418.4M418.8 465H419.7M420.2 466H421M421.5 467H422.4M422.8 468H424.1M424.6 469H425.5M425.9 470H426.8M427.2 471H428.1M428.6 472H429.9M430.3 473H431.2M431.7 474H433M433.4 475H434.3M434.8 476H435.6M436.1 477H437.4M437.9 478H438.7M439.2 479H440.5M440.9 480H441.8M442.3 481H443.6M444 482H444.9M445.4 483H446.7M447.1 484H448M448.5 485H449.8M450.2 486H451.6M452 487H452.9M453.3 488H454.7M455.1 489H456.4M456.9 490H457.8M458.2 491H459.5M460 492H461.3M461.7 493H462.6M463.1 494H464.4M464.8 495H466.2M466.6 496H467.9M468.4 497H469.7M470.1 498H471.5M471.9 499H472.8M473.2 500H474.6M475 501H476.3M476.8 502H478.1M478.5 503H479.9M480.3 504H481.6M482.1 505H483.4M483.8 506H485.2M485.6 507H486.9M487.4 508H489.2M489.6 509H490.9M491.4 510H492.7M493.1 511H494.5M494.9 512H496.2M496.7 513H498.4M498.9 514H500.2M500.7 515H502M502.4 516H503.7M504.2 517H506M506.4 518H507.7M508.2 519H509.9M510.4 520H511.7M512.2 521H513.5M513.9 522H515.7M516.1 523H517.9M518.3 524H519.7M520.1 525H521.9M522.3 526H523.6M524.1 527H525.9M526.3 528H528.1M528.5 529H529.8M530.3 530H532.1M532.5 531H534.3M534.7 532H536.5M536.9 533H538.7M539.1 534H540.9M541.3 535H542.7M543.1 536H544.9M545.3 537H547.1M547.5 538H549.3M549.7 539H552M552.4 540H554.2M554.6 541H556.4M556.8 542H558.6M559 543H560.8M561.2 544H563M563.5 545H565.7M566.1 546H567.9M568.3 547H570.1M570.5 548H572.7M573.2 549H574.9M575.4 550H577.6M578 551H579.8M580.3 552H582.5M582.9 553H585.1M585.6 554H587.3M587.8 555H590M590.4 556H592.6M593.1 557H595.3M595.7 558H597.9M598.4 559H600.6M601 560H603.3M603.7 561H605.9M606.3 562H608.6M609 563H611.2M611.7 564H613.9M614.3 565H616.5M617 566H619.6M620.1 567H622.3M622.7 568H625.4M625.8 569H628M628.5 570H631.1M631.6 571H633.8M634.2 572H636.9M637.3 573H640M640.4 574H643.1M643.5 575H646.2M646.6 576H649.2M649.7 577H652.3M652.8 578H655.4M655.9 579H658.5M659 580H661.6M662.1 581H664.7M665.2 582H668.3M668.7 583H671.4M671.8 584H674.9M675.3 585H678M678.4 586H681.5M682 587H685.1M685.5 588H688.6M689.1 589H692.1M692.6 590H695.7M696.1 591H699.2M699.7 592H702.8M703.2 593H706.3M706.7 594H710.3M710.7 595H713.8M714.3 596H717.8M718.2 597H721.3M721.8 598H725.3M725.8 599H729.3M729.7 600H733.3M733.7 601H737.3M737.7 602H741.2M741.7 603H745.7M746.1 604H749.6M750.1 605H754.1M754.5 606H758M758.5 607H762.5M762.9 608H766.9M767.3 609H771.3M771.8 610H775.7M776.2 611H780.2M780.6 612H785M785.5 613H789.4M789.9 614H794.3M794.7 615H799.2M799.6 616H804M804.5 617H808.9M809.3 618H813.8M814.2 619H818.6M819.1 620H823.9M824.4 621H829.2M829.7 622H834.6M835 623H839.9M840.3 624H845.2M845.6 625H850.9M851.4 626H856.7M857.1 627H862M862.4 628H867.7M868.2 629H873.9M874.4 630H879.7M880.1 631H885.9M886.3 632H892M892.5 633H898.2M898.7 634H904.4M904.9 635H910.6M911.1 636H917.3M917.7 637H923.4M923.9 638H930.1M930.5 639H936.7M937.2 640H943.3M943.8 641H949.1" stroke="#00ff00"/>
</g>
</defs>
<g id="panel-a">
<rect x="65.00" y="34.80" width="884.10" height="698.25" fill="none" stroke="#404040" stroke-width="1.70"/>
<path d="M65.00 733.10v-9.80M65.00 34.40v9.80M153.41 733.10v-9.80M153.41 34.40v9.80M241.82 733.10v-9.80M241.82 34.40v9.80M330.23 733.10v-9.80M330.23 34.40v9.80M418.64 733.10v-9.80M418.64 34.40v9.80M507.05 733.10v-9.80M507.05 34.40v9.80M595.46 733.10v-9.80M595.46 34.40v9.80M683.87 733.10v-9.80M683.87 34.40v9.80M772.28 733.10v-9.80M772.28 34.40v9.80M860.69 733.10v-9.80M860.69 34.40v9.80M949.10 733.10v-9.80M949.10 34.40v9.80M65.00 733.10h9.80M949.10 733.10h-9.80M65.00 655.47h9.80M949.10 655.47h-9.80M65.00 577.83h9.80M949.10 577.83h-9.80M65.00 500.20h9.80M949.10 500.20h-9.80M65.00 422.57h9.80M949.10 422.57h-9.80M65.00 344.93h9.80M949.10 344.93h-9.80M65.00 267.30h9.80M949.10 267.30h-9.80M65.00 189.67h9.80M949.10 189.67h-9.80M65.00 112.03h9.80M949.10 112.03h-9.80M65.00 34.40h9.80M949.10 34.40h-9.80" stroke="#303030" stroke-width="1.50" fill="none"/>
<text transform="translate(64.00 772.90) scale(1 1.050)" text-anchor="middle" font-size="26.70" fill="#0a0a0a" stroke="#0a0a0a" stroke-width="0.15">0</text>
<text transform="translate(152.41 772.90) scale(1 1.050)" text-anchor="middle" font-size="26.70" fill="#0a0a0a" stroke="#0a0a0a" stroke-width="0.15">2</text>
<text transform="translate(240.82 772.90) scale(1 1.050)" text-anchor="middle" font-size="26.70" fill="#0a0a0a" stroke="#0a0a0a" stroke-width="0.15">4</text>
<text transform="translate(329.23 772.90) scale(1 1.050)" text-anchor="middle" font-size="26.70" fill="#0a0a0a" stroke="#0a0a0a" stroke-width="0.15">6</text>
<text transform="translate(417.64 772.90) scale(1 1.050)" text-anchor="middle" font-size="26.70" fill="#0a0a0a" stroke="#0a0a0a" stroke-width="0.15">8</text>
<text transform="translate(506.05 772.90) scale(1 1.050)" text-anchor="middle" font-size="26.70" fill="#0a0a0a" stroke="#0a0a0a" stroke-width="0.15">10</text>
<text transform="translate(594.46 772.90) scale(1 1.050)" text-anchor="middle" font-size="26.70" fill="#0a0a0a" stroke="#0a0a0a" stroke-width="0.15">12</text>
<text transform="translate(682.87 772.90) scale(1 1.050)" text-anchor="middle" font-size="26.70" fill="#0a0a0a" stroke="#0a0a0a" stroke-width="0.15">14</text>
<text transform="translate(771.28 772.90) scale(1 1.050)" text-anchor="middle" font-size="26.70" fill="#0a0a0a" stroke="#0a0a0a" stroke-width="0.15">16</text>
<text transform="translate(859.69 772.90) scale(1 1.050)" text-anchor="middle" font-size="26.70" fill="#0a0a0a" stroke="#0a0a0a" stroke-width="0.15">18</text>
<text transform="translate(948.10 772.90) scale(1 1.050)" text-anchor="middle" font-size="26.70" fill="#0a0a0a" stroke="#0a0a0a" stroke-width="0.15">20</text>
<text transform="translate(52.70 744.10) scale(1 1.050)" text-anchor="end" font-size="26.70" fill="#0a0a0a" stroke="#0a0a0a" stroke-width="0.15">0</text>
<text transform="translate(52.70 666.54) scale(1 1.050)" text-anchor="end" font-size="26.70" fill="#0a0a0a" stroke="#0a0a0a" stroke-width="0.15">1</text>
<text transform="translate(52.70 588.97) scale(1 1.050)" text-anchor="end" font-size="26.70" fill="#0a0a0a" stroke="#0a0a0a" stroke-width="0.15">2</text>
<text transform="translate(52.70 511.41) scale(1 1.050)" text-anchor="end" font-size="26.70" fill="#0a0a0a" stroke="#0a0a0a" stroke-width="0.15">3</text>
<text transform="translate(52.10 433.85) scale(1 1.050)" text-anchor="end" font-size="26.70" fill="#0a0a0a" stroke="#0a0a0a" stroke-width="0.15">4</text>
<text transform="translate(52.70 356.28) scale(1 1.050)" text-anchor="end" font-size="26.70" fill="#0a0a0a" stroke="#0a0a0a" stroke-width="0.15">5</text>
<text transform="translate(52.70 278.72) scale(1 1.050)" text-anchor="end" font-size="26.70" fill="#0a0a0a" stroke="#0a0a0a" stroke-width="0.15">6</text>
<text transform="translate(52.70 201.16) scale(1 1.050)" text-anchor="end" font-size="26.70" fill="#0a0a0a" stroke="#0a0a0a" stroke-width="0.15">7</text>
<text transform="translate(52.70 123.59) scale(1 1.050)" text-anchor="end" font-size="26.70" fill="#0a0a0a" stroke="#0a0a0a" stroke-width="0.15">8</text>
<text transform="translate(52.70 46.03) scale(1 1.050)" text-anchor="end" font-size="26.70" fill="#0a0a0a" stroke="#0a0a0a" stroke-width="0.15">9</text>
<text transform="translate(66.6 29) scale(1 1.03)" fill="#0a0a0a" font-size="27.1"><tspan x="0" dy="2.6" font-size="30">×</tspan><tspan x="21.4" dy="-2.6" stroke="#0a0a0a" stroke-width="0.3">10</tspan><tspan x="51.6" dy="-12.2" font-size="21.8" stroke="#0a0a0a" stroke-width="0.15">-3</tspan></text>
<text transform="translate(506.00 811.60) scale(1 1.000)" text-anchor="middle" font-size="29.85" fill="#0a0a0a" stroke="#0a0a0a" stroke-width="0.25">t</text>
<text transform="translate(22.1 384) rotate(-90) scale(1 0.970)" text-anchor="middle" font-size="29.60" fill="#0a0a0a" stroke="#0a0a0a" stroke-width="0.25">E(t)</text>
<text transform="translate(507.20 21.00) scale(1 0.975)" text-anchor="middle" font-size="29.85" fill="#000" font-weight="bold" stroke="#000" stroke-width="0.20">Proposed Method</text>
<rect x="743.2" y="57.1" width="183.2" height="140.1" fill="#fff" stroke="#404040" stroke-width="1.60"/>
<circle cx="792.1" cy="77.1" r="2.90" fill="#ff0000"/>
<text transform="translate(839.2 87.80) scale(1 0.97)" fill="#000" font-size="24.30"><tspan class="al" x="0" font-size="25.6" textLength="14.2" lengthAdjust="spacingAndGlyphs">α</tspan><tspan x="16" stroke="#000" stroke-width="0.3">=1.0</tspan></text>
<circle cx="792.1" cy="110.4" r="2.90" fill="#000000"/>
<text transform="translate(839.2 120.05) scale(1 0.97)" fill="#000" font-size="24.30"><tspan class="al" x="0" font-size="25.6" textLength="14.2" lengthAdjust="spacingAndGlyphs">α</tspan><tspan x="16" stroke="#000" stroke-width="0.3">=0.95</tspan></text>
<circle cx="792.1" cy="143.8" r="2.90" fill="#0000ff"/>
<text transform="translate(839.2 155.10) scale(1 0.97)" fill="#000" font-size="24.30"><tspan class="al" x="0" font-size="25.6" textLength="14.2" lengthAdjust="spacingAndGlyphs">α</tspan><tspan x="16" stroke="#000" stroke-width="0.3">=0.90</tspan></text>
<circle cx="792.1" cy="177.1" r="2.90" fill="#00ff00"/>
<text transform="translate(839.2 187.30) scale(1 0.97)" fill="#000" font-size="24.30"><tspan class="al" x="0" font-size="25.6" textLength="14.2" lengthAdjust="spacingAndGlyphs">α</tspan><tspan x="16" stroke="#000" stroke-width="0.3">=0.85</tspan></text>
<use href="#curves"/>
</g>
<g id="panel-b" transform="translate(1040.1 0)">
<rect x="65.00" y="34.80" width="884.10" height="698.25" fill="none" stroke="#404040" stroke-width="1.70"/>
<path d="M65.00 733.10v-9.80M65.00 34.40v9.80M153.41 733.10v-9.80M153.41 34.40v9.80M241.82 733.10v-9.80M241.82 34.40v9.80M330.23 733.10v-9.80M330.23 34.40v9.80M418.64 733.10v-9.80M418.64 34.40v9.80M507.05 733.10v-9.80M507.05 34.40v9.80M595.46 733.10v-9.80M595.46 34.40v9.80M683.87 733.10v-9.80M683.87 34.40v9.80M772.28 733.10v-9.80M772.28 34.40v9.80M860.69 733.10v-9.80M860.69 34.40v9.80M949.10 733.10v-9.80M949.10 34.40v9.80M65.00 733.10h9.80M949.10 733.10h-9.80M65.00 655.47h9.80M949.10 655.47h-9.80M65.00 577.83h9.80M949.10 577.83h-9.80M65.00 500.20h9.80M949.10 500.20h-9.80M65.00 422.57h9.80M949.10 422.57h-9.80M65.00 344.93h9.80M949.10 344.93h-9.80M65.00 267.30h9.80M949.10 267.30h-9.80M65.00 189.67h9.80M949.10 189.67h-9.80M65.00 112.03h9.80M949.10 112.03h-9.80M65.00 34.40h9.80M949.10 34.40h-9.80" stroke="#303030" stroke-width="1.50" fill="none"/>
<text transform="translate(64.00 772.90) scale(1 1.050)" text-anchor="middle" font-size="26.70" fill="#0a0a0a" stroke="#0a0a0a" stroke-width="0.15">0</text>
<text transform="translate(152.41 772.90) scale(1 1.050)" text-anchor="middle" font-size="26.70" fill="#0a0a0a" stroke="#0a0a0a" stroke-width="0.15">2</text>
<text transform="translate(240.82 772.90) scale(1 1.050)" text-anchor="middle" font-size="26.70" fill="#0a0a0a" stroke="#0a0a0a" stroke-width="0.15">4</text>
<text transform="translate(329.23 772.90) scale(1 1.050)" text-anchor="middle" font-size="26.70" fill="#0a0a0a" stroke="#0a0a0a" stroke-width="0.15">6</text>
<text transform="translate(417.64 772.90) scale(1 1.050)" text-anchor="middle" font-size="26.70" fill="#0a0a0a" stroke="#0a0a0a" stroke-width="0.15">8</text>
<text transform="translate(506.05 772.90) scale(1 1.050)" text-anchor="middle" font-size="26.70" fill="#0a0a0a" stroke="#0a0a0a" stroke-width="0.15">10</text>
<text transform="translate(594.46 772.90) scale(1 1.050)" text-anchor="middle" font-size="26.70" fill="#0a0a0a" stroke="#0a0a0a" stroke-width="0.15">12</text>
<text transform="translate(682.87 772.90) scale(1 1.050)" text-anchor="middle" font-size="26.70" fill="#0a0a0a" stroke="#0a0a0a" stroke-width="0.15">14</text>
<text transform="translate(771.28 772.90) scale(1 1.050)" text-anchor="middle" font-size="26.70" fill="#0a0a0a" stroke="#0a0a0a" stroke-width="0.15">16</text>
<text transform="translate(859.69 772.90) scale(1 1.050)" text-anchor="middle" font-size="26.70" fill="#0a0a0a" stroke="#0a0a0a" stroke-width="0.15">18</text>
<text transform="translate(948.10 772.90) scale(1 1.050)" text-anchor="middle" font-size="26.70" fill="#0a0a0a" stroke="#0a0a0a" stroke-width="0.15">20</text>
<text transform="translate(52.70 744.10) scale(1 1.050)" text-anchor="end" font-size="26.70" fill="#0a0a0a" stroke="#0a0a0a" stroke-width="0.15">0</text>
<text transform="translate(52.70 666.54) scale(1 1.050)" text-anchor="end" font-size="26.70" fill="#0a0a0a" stroke="#0a0a0a" stroke-width="0.15">1</text>
<text transform="translate(52.70 588.97) scale(1 1.050)" text-anchor="end" font-size="26.70" fill="#0a0a0a" stroke="#0a0a0a" stroke-width="0.15">2</text>
<text transform="translate(52.70 511.41) scale(1 1.050)" text-anchor="end" font-size="26.70" fill="#0a0a0a" stroke="#0a0a0a" stroke-width="0.15">3</text>
<text transform="translate(52.10 433.85) scale(1 1.050)" text-anchor="end" font-size="26.70" fill="#0a0a0a" stroke="#0a0a0a" stroke-width="0.15">4</text>
<text transform="translate(52.70 356.28) scale(1 1.050)" text-anchor="end" font-size="26.70" fill="#0a0a0a" stroke="#0a0a0a" stroke-width="0.15">5</text>
<text transform="translate(52.70 278.72) scale(1 1.050)" text-anchor="end" font-size="26.70" fill="#0a0a0a" stroke="#0a0a0a" stroke-width="0.15">6</text>
<text transform="translate(52.70 201.16) scale(1 1.050)" text-anchor="end" font-size="26.70" fill="#0a0a0a" stroke="#0a0a0a" stroke-width="0.15">7</text>
<text transform="translate(52.70 123.59) scale(1 1.050)" text-anchor="end" font-size="26.70" fill="#0a0a0a" stroke="#0a0a0a" stroke-width="0.15">8</text>
<text transform="translate(52.70 46.03) scale(1 1.050)" text-anchor="end" font-size="26.70" fill="#0a0a0a" stroke="#0a0a0a" stroke-width="0.15">9</text>
<text transform="translate(66.6 29) scale(1 1.03)" fill="#0a0a0a" font-size="27.1"><tspan x="0" dy="2.6" font-size="30">×</tspan><tspan x="21.4" dy="-2.6" stroke="#0a0a0a" stroke-width="0.3">10</tspan><tspan x="51.6" dy="-12.2" font-size="21.8" stroke="#0a0a0a" stroke-width="0.15">-3</tspan></text>
<text transform="translate(506.00 811.60) scale(1 1.000)" text-anchor="middle" font-size="29.85" fill="#0a0a0a" stroke="#0a0a0a" stroke-width="0.25">t</text>
<text transform="translate(22.1 384) rotate(-90) scale(1 0.970)" text-anchor="middle" font-size="29.60" fill="#0a0a0a" stroke="#0a0a0a" stroke-width="0.25">E(t)</text>
<text transform="translate(507.20 21.00) scale(1 0.975)" text-anchor="middle" font-size="29.85" fill="#000" font-weight="bold" stroke="#000" stroke-width="0.20">Proposed Method</text>
<rect x="743.2" y="57.1" width="183.2" height="140.1" fill="#fff" stroke="#404040" stroke-width="1.60"/>
<circle cx="792.1" cy="77.1" r="2.90" fill="#ff0000"/>
<text transform="translate(839.2 87.80) scale(1 0.97)" fill="#000" font-size="24.30"><tspan class="al" x="0" font-size="25.6" textLength="14.2" lengthAdjust="spacingAndGlyphs">α</tspan><tspan x="16" stroke="#000" stroke-width="0.3">=1.0</tspan></text>
<circle cx="792.1" cy="110.4" r="2.90" fill="#000000"/>
<text transform="translate(839.2 120.05) scale(1 0.97)" fill="#000" font-size="24.30"><tspan class="al" x="0" font-size="25.6" textLength="14.2" lengthAdjust="spacingAndGlyphs">α</tspan><tspan x="16" stroke="#000" stroke-width="0.3">=0.95</tspan></text>
<circle cx="792.1" cy="143.8" r="2.90" fill="#0000ff"/>
<text transform="translate(839.2 155.10) scale(1 0.97)" fill="#000" font-size="24.30"><tspan class="al" x="0" font-size="25.6" textLength="14.2" lengthAdjust="spacingAndGlyphs">α</tspan><tspan x="16" stroke="#000" stroke-width="0.3">=0.90</tspan></text>
<circle cx="792.1" cy="177.1" r="2.90" fill="#00ff00"/>
<text transform="translate(839.2 187.30) scale(1 0.97)" fill="#000" font-size="24.30"><tspan class="al" x="0" font-size="25.6" textLength="14.2" lengthAdjust="spacingAndGlyphs">α</tspan><tspan x="16" stroke="#000" stroke-width="0.3">=0.85</tspan></text>
<use href="#curves"/>
</g>
<text class="cap" x="486.7" y="916.5" text-anchor="middle" font-size="62.5" fill="#000">(a)</text>
<text class="cap" x="1527" y="916.5" text-anchor="middle" font-size="62.5" fill="#000">(b)</text>
</svg>
</body></html>
